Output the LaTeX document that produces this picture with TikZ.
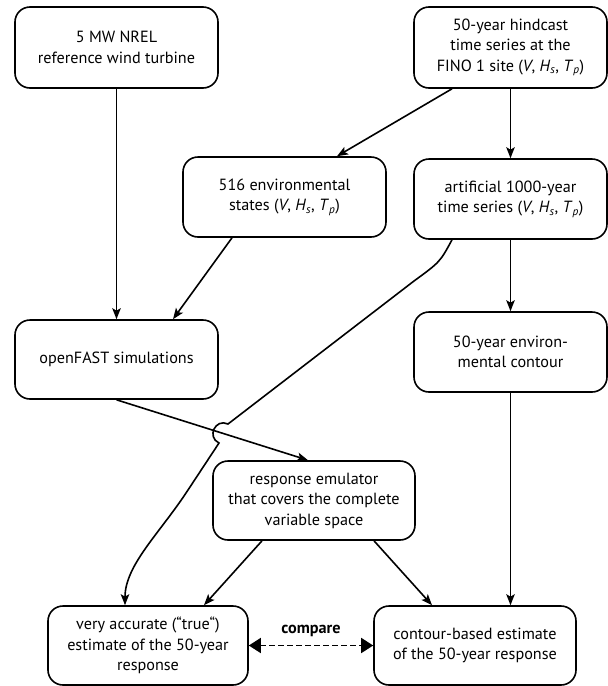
\documentclass[tikz,border=0pt]{standalone}
\usepackage{fontspec}
\setmainfont{PT Sans}
\usetikzlibrary{arrows.meta}

\newcommand{\vht}{(\textit{V}, \textit{H}\textsubscript{\textit{s}}, \textit{T}\textsubscript{\textit{p}})}

\begin{document}
\begin{tikzpicture}[x=1pt,y=-1pt,>={Stealth[length=11pt,width=8.5pt,inset=2.5pt]},line width=1.6pt,
		box/.style={draw,rounded corners=15pt,align=center,inner sep=0pt,minimum height=80pt,font=\fontsize{16.2}{20.5}\selectfont},
		bigtip/.tip={Triangle[length=12pt,width=15pt]}]

			\useasboundingbox (0,0) rectangle (608,686);

			% Inputs
			\node[box,minimum width=203pt,minimum height=81pt] (WT) at (116.5,47.5) {5 MW NREL\\reference wind turbine};
			\node[box,minimum width=193pt,minimum height=81pt] (HC) at (510.5,47.5) {50-year hindcast\\time series at the\\FINO 1 site \vht};

			% Environment
			\node[box,minimum width=203pt] (ES) at (284.5,197) {516 environmental\\states \vht};
			\node[box,minimum width=193pt] (AT) at (510.5,199) {artificial 1000-year\\time series \vht};

			% Simulations and contour
			\node[box,minimum width=203pt,minimum height=79pt] (OF) at (116.5,359.5) {openFAST simulations};
			\node[box,minimum width=193pt] (EC) at (510.5,352) {50-year environ-\\mental contour};

			% Emulator and estimates
			\node[box,minimum width=202pt,minimum height=79pt] (RE) at (314,500.5) {response emulator\\that covers the complete\\variable space};
			\node[box,minimum width=200pt,minimum height=79pt] (TR) at (148,645.5) {very accurate (``true``)\\estimate of the 50-year\\response};
			\node[box,minimum width=202pt,minimum height=79pt] (CB) at (475,645.5) {contour-based estimate\\of the 50-year response};

			% Edges
			\draw[->] (WT) -- (OF);
			\draw[->] ([xshift=-58.5pt]HC.south) -- ([xshift=52.5pt]ES.north);
			\draw[->] (HC) -- (AT);
			\draw[->] ([xshift=-52.5pt]ES.south) -- ([xshift=56.5pt]OF.north);
			\draw[->] (AT) -- (EC);
			\draw[->] (EC.south) -- (EC.south |- CB.north);
			\draw[->] (OF.south) -- ([xshift=-6pt]RE.north);
			\draw[->] ([xshift=-52pt]RE.south) -- ([xshift=56pt]TR.north);
			\draw[->] ([xshift=60pt]RE.south) -- ([xshift=-43pt]CB.north);

			% Long edge, hops over the openFAST edge
			\draw[->] ([xshift=-58.5pt]AT.south) .. controls (440,262) .. (414,281) -- (228,424)
				.. controls (215.4,418) and (206.4,437) .. (219,443)
				-- (188,490) .. controls (160,533) and (125,565) .. ([xshift=-23pt]TR.north);

			% Compare
			\draw[dash pattern=on 6pt off 3pt,bigtip-bigtip] (TR.east) -- (CB.west)
				node[midway,above=5pt,font=\fontsize{16.2}{20.5}\selectfont\bfseries] (cmp) {compare};

		\end{tikzpicture}
\end{document}
